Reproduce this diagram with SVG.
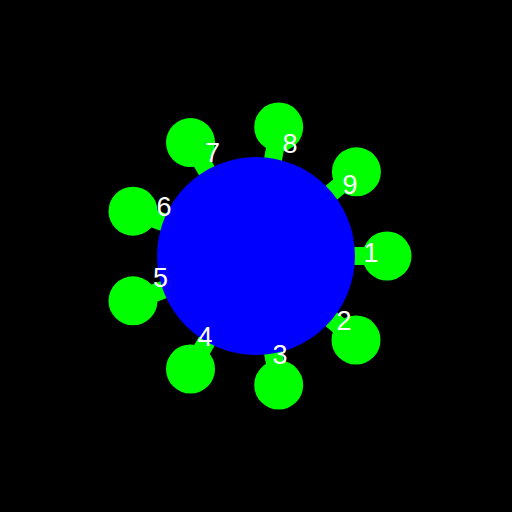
<svg xmlns="http://www.w3.org/2000/svg" width="512" height="512" viewBox="0 0 512 512">
<style>
.conn{fill:#00ff00}
.leaf{fill:#00ff00}
.hub{fill:#0000ff}
.lbl{fill:#ffffff;font-family:"Liberation Sans",Arial,sans-serif;font-size:27px;text-anchor:middle}
</style>
<rect width="512" height="512" fill="#000000"/>
<g id="connectors">
<rect class="conn" x="336" y="-9" width="36" height="18" transform="translate(256,256) rotate(0) translate(-256,-256) translate(0,256)"/>
<rect class="conn" x="336" y="-9" width="36" height="18" transform="translate(256,256) rotate(40) translate(-256,-256) translate(0,256)"/>
<rect class="conn" x="336" y="-9" width="36" height="18" transform="translate(256,256) rotate(80) translate(-256,-256) translate(0,256)"/>
<rect class="conn" x="336" y="-9" width="36" height="18" transform="translate(256,256) rotate(120) translate(-256,-256) translate(0,256)"/>
<rect class="conn" x="336" y="-9" width="36" height="18" transform="translate(256,256) rotate(160) translate(-256,-256) translate(0,256)"/>
<rect class="conn" x="336" y="-9" width="36" height="18" transform="translate(256,256) rotate(200) translate(-256,-256) translate(0,256)"/>
<rect class="conn" x="336" y="-9" width="36" height="18" transform="translate(256,256) rotate(240) translate(-256,-256) translate(0,256)"/>
<rect class="conn" x="336" y="-9" width="36" height="18" transform="translate(256,256) rotate(280) translate(-256,-256) translate(0,256)"/>
<rect class="conn" x="336" y="-9" width="36" height="18" transform="translate(256,256) rotate(320) translate(-256,-256) translate(0,256)"/>
</g>
<g id="hub"><circle class="hub" cx="256" cy="256" r="99"/></g>
<g id="n1"><circle class="leaf" cx="387" cy="256" r="24.5"/><text class="lbl" x="371" y="262">1</text></g>
<g id="n2"><circle class="leaf" cx="356" cy="340" r="24.5"/><text class="lbl" x="344" y="330">2</text></g>
<g id="n3"><circle class="leaf" cx="278.7" cy="385" r="24.5"/><text class="lbl" x="280" y="364">3</text></g>
<g id="n4"><circle class="leaf" cx="190.5" cy="369" r="24.5"/><text class="lbl" x="205" y="346">4</text></g>
<g id="n5"><circle class="leaf" cx="133" cy="300.8" r="24.5"/><text class="lbl" x="160.5" y="287">5</text></g>
<g id="n6"><circle class="leaf" cx="133" cy="211.2" r="24.5"/><text class="lbl" x="164" y="216">6</text></g>
<g id="n7"><circle class="leaf" cx="190.5" cy="142.6" r="24.5"/><text class="lbl" x="212.5" y="162">7</text></g>
<g id="n8"><circle class="leaf" cx="278.7" cy="127" r="24.5"/><text class="lbl" x="290" y="153">8</text></g>
<g id="n9"><circle class="leaf" cx="356.4" cy="171.8" r="24.5"/><text class="lbl" x="350" y="194">9</text></g>
</svg>
